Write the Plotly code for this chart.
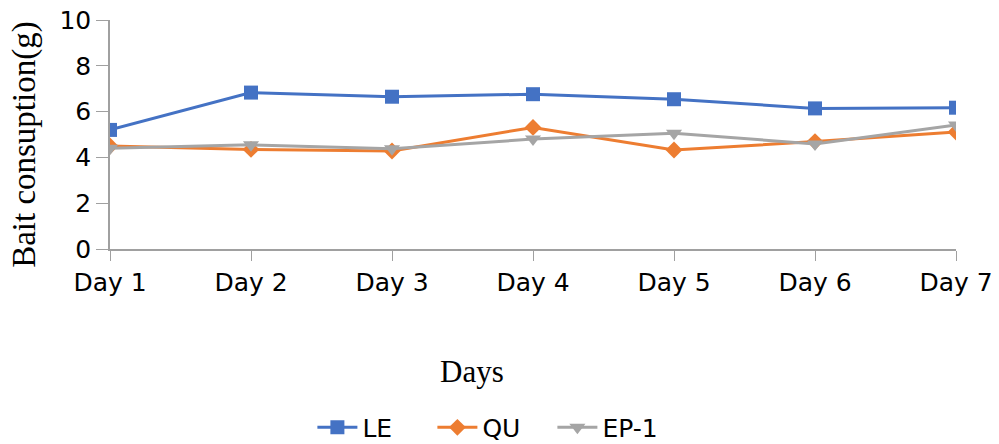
import plotly.graph_objects as go

days = ["Day 1", "Day 2", "Day 3", "Day 4", "Day 5", "Day 6", "Day 7"]
le = [5.2, 6.83, 6.65, 6.76, 6.54, 6.14, 6.17]
qu = [4.5, 4.35, 4.28, 5.31, 4.32, 4.69, 5.11]
ep1 = [4.4, 4.55, 4.38, 4.8, 5.05, 4.59, 5.41]

x_idx = list(range(len(days)))

fig = go.Figure()
fig.add_trace(go.Scatter(x=x_idx, y=le, name="LE", mode="lines+markers",
                         line=dict(color="#4472C4", width=3),
                         marker=dict(symbol="square", size=14, color="#4472C4")))
fig.add_trace(go.Scatter(x=x_idx, y=qu, name="QU", mode="lines+markers",
                         line=dict(color="#ED7D31", width=3),
                         marker=dict(symbol="diamond", size=13, color="#ED7D31")))
fig.add_trace(go.Scatter(x=x_idx, y=ep1, name="EP-1", mode="lines+markers",
                         line=dict(color="#A5A5A5", width=3),
                         marker=dict(symbol="triangle-down", size=14, color="#A5A5A5")))

fig.update_layout(
    width=999, height=444,
    margin=dict(l=110, r=43, t=20, b=195, autoexpand=False),
    paper_bgcolor="white", plot_bgcolor="white",
    font=dict(family="DejaVu Sans", size=25, color="black"),
    showlegend=True,
    legend=dict(orientation="h", x=0.452, xanchor="center", y=-0.78, yanchor="middle",
                font=dict(size=25), itemwidth=40,
                entrywidth=65, entrywidthmode="pixels"),
    xaxis=dict(range=[0, 6], tickvals=x_idx, ticktext=days, showgrid=False,
               showline=True, linecolor="#A0A0A0", linewidth=1.5,
               ticks="outside", ticklen=10, tickcolor="#A0A0A0", zeroline=False,
               tickfont=dict(size=25)),
    yaxis=dict(range=[0, 10], dtick=2, showgrid=False, showline=True,
               linecolor="#A0A0A0", linewidth=1.5, ticks="outside", ticklen=12,
               tickcolor="#A0A0A0", zeroline=False, tickfont=dict(size=25)),
    annotations=[
        dict(text="Days", x=0.428, y=-0.537, xref="paper", yref="paper",
             xanchor="center", yanchor="middle",
             showarrow=False, font=dict(family="Liberation Serif", size=31)),
        dict(text="Bait consuption(g)", x=-0.1005, y=0.459, xref="paper", yref="paper",
             xanchor="center", yanchor="middle", textangle=-90, showarrow=False,
             font=dict(family="Liberation Serif", size=33)),
    ],
)

fig.write_html("out.html")
